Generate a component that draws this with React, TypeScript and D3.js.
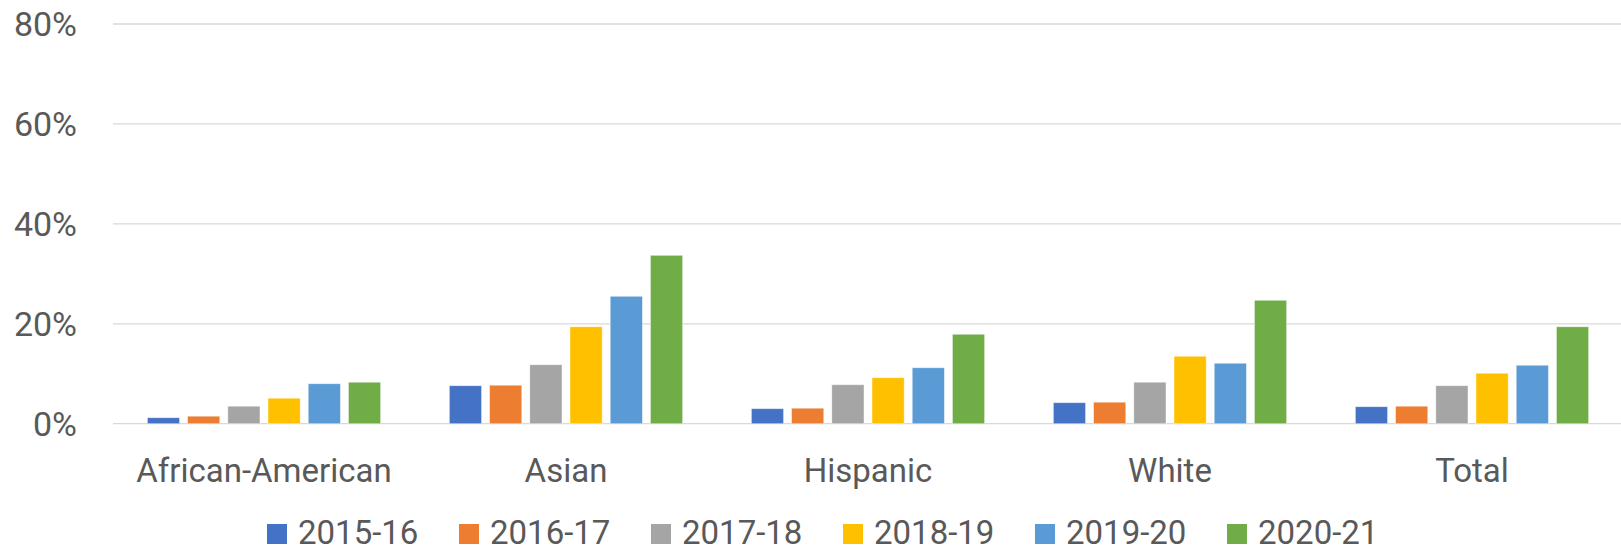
import React from 'react';
import * as d3 from 'd3';

const categories = ['African-American', 'Asian', 'Hispanic', 'White', 'Total'];
const seriesNames = ['2015-16', '2016-17', '2017-18', '2018-19', '2019-20', '2020-21'];
const colors = ['#4472C4', '#ED7D31', '#A5A5A5', '#FFC000', '#5B9BD5', '#70AD47'];

// percent values per series, in category order
const s2015 = [1.2, 7.6, 3.0, 4.2, 3.4];
const s2016 = [1.5, 7.7, 3.1, 4.3, 3.5];
const s2017 = [3.5, 11.8, 7.8, 8.3, 7.6];
const s2018 = [5.1, 19.4, 9.2, 13.5, 10.1];
const s2019 = [8.0, 25.5, 11.2, 12.1, 11.7];
const s2020 = [8.3, 33.7, 17.9, 24.7, 19.4];
const seriesValues = [s2015, s2016, s2017, s2018, s2019, s2020];

const yTicks = [0, 20, 40, 60, 80];

const W = 1621;
const H = 552;
const margin = { top: 24, right: 0, bottom: 129, left: 113 };
const FONT = 'Roboto, "Open Sans", sans-serif';
const TEXT = '#595959';

export default function App() {
  const x0 = d3
    .scaleBand<string>()
    .domain(categories)
    .range([margin.left, margin.left + 1510]);

  const x1 = d3
    .scaleBand<string>()
    .domain(seriesNames)
    .range([0, x0.bandwidth()])
    .paddingInner(0.2)
    .paddingOuter(0.855);

  const y = d3
    .scaleLinear()
    .domain([0, 80])
    .range([H - margin.bottom + 0.7, margin.top]);

  const legendStep = 192;
  const legendLeft = 267;

  return (
    <svg
      width={W}
      height={H}
      style={{ position: 'absolute', left: 0, top: 0, background: '#fff' }}
      fontFamily={FONT}
    >
      {/* gridlines + y labels */}
      {yTicks.map((t) => (
        <g key={t}>
          <line
            x1={margin.left}
            x2={W}
            y1={y(t)}
            y2={y(t)}
            stroke="#d9d9d9"
            strokeWidth={1.3}
          />
          <text
            x={77}
            y={y(t)}
            dy="0.36em"
            textAnchor="end"
            fontSize={34}
            fill={TEXT}
          >
            {t}%
          </text>
        </g>
      ))}

      {/* bars */}
      {categories.map((c, ci) => (
        <g key={c} transform={`translate(${x0(c)},0)`}>
          {seriesNames.map((s, si) => {
            const v = seriesValues[si][ci];
            return (
              <rect
                key={s}
                x={x1(s)}
                y={y(v)}
                width={x1.bandwidth()}
                height={y(0) - y(v)}
                fill={colors[si]}
                stroke="#fff"
                strokeOpacity={0.5}
                strokeWidth={0.8}
              />
            );
          })}
          <text
            x={x0.bandwidth() / 2}
            y={482}
            textAnchor="middle"
            fontSize={33}
            fill={TEXT}
          >
            {c}
          </text>
        </g>
      ))}

      {/* legend */}
      {seriesNames.map((s, i) => (
        <g key={s} transform={`translate(${legendLeft + i * legendStep},0)`}>
          <rect x={0} y={524} width={20} height={20} fill={colors[i]} />
          <text x={31} y={544} fontSize={33} fill={TEXT}>
            {s}
          </text>
        </g>
      ))}
    </svg>
  );
}
